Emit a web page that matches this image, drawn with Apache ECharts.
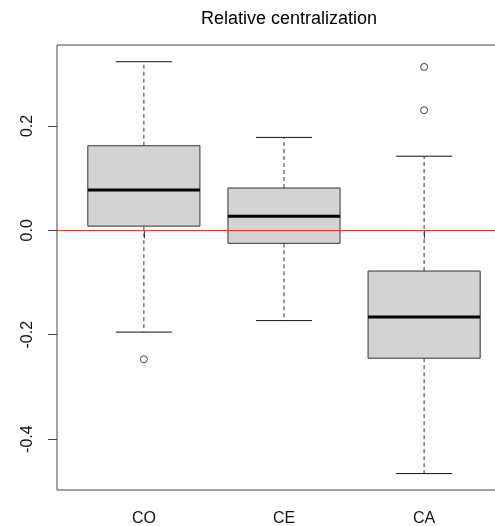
<!DOCTYPE html>
<html>
<head>
<meta charset="utf-8">
<script src="https://cdn.jsdelivr.net/npm/echarts@6/dist/echarts.min.js"></script>
<style>html,body{margin:0;padding:0;background:#fff}#c{width:495px;height:526px}</style>
</head>
<body>
<div id="c"></div>
<script>
var categories = ['CO', 'CE', 'CA'];
var lowerWhisker = [-0.195, -0.173, -0.466];
var q1 = [0.008, -0.025, -0.245];
var median = [0.077, 0.027, -0.166];
var q3 = [0.162, 0.081, -0.078];
var upperWhisker = [0.323, 0.178, 0.142];
var outlierCat = [0, 2, 2];
var outlierVal = [-0.247, 0.313, 0.230];
var yTicks = [-0.4, -0.2, 0.0, 0.2];
var title = 'Relative centralization';

var boxData = categories.map(function (c, i) {
  return [i + 1, lowerWhisker[i], q1[i], median[i], q3[i], upperWhisker[i]];
});
var outData = outlierCat.map(function (c, i) { return [c + 1, outlierVal[i]]; });

var FONT = '"Liberation Sans", Arial, sans-serif';
var chart = echarts.init(document.getElementById('c'), null, {renderer: 'canvas'});
chart.setOption({
  animation: false,
  backgroundColor: '#fff',
  title: {
    text: title, left: 284, top: 5, textAlign: 'center',
    textStyle: {fontFamily: FONT, fontSize: 18, fontWeight: 'normal', color: '#000'}
  },
  grid: {
    left: 57, top: 45, width: 454, height: 445,
    outerBoundsMode: 'none', containLabel: false,
    show: true, borderColor: '#444', borderWidth: 1, backgroundColor: 'transparent'
  },
  xAxis: {
    type: 'value', min: 0.38, max: 3.62,
    axisLine: {show: false},
    splitLine: {show: false},
    axisTick: {show: true, customValues: [1, 2, 3], length: 8, inside: false, lineStyle: {color: '#444'}},
    axisLabel: {
      customValues: [1, 2, 3], margin: 21,
      formatter: function (v) { return categories[Math.round(v) - 1]; },
      fontFamily: FONT, fontSize: 16, color: '#111'
    }
  },
  yAxis: {
    type: 'value', min: -0.4975, max: 0.355,
    axisLine: {show: false},
    splitLine: {show: false},
    axisTick: {show: true, customValues: yTicks, length: 9, lineStyle: {color: '#444'}},
    axisLabel: {
      customValues: yTicks, rotate: 90, margin: 21,
      formatter: function (v) { return v.toFixed(1); },
      fontFamily: FONT, fontSize: 16, color: '#111'
    }
  },
  series: [
    {
      type: 'custom',
      data: boxData,
      clip: false,
      renderItem: function (params, api) {
        var x = api.value(0);
        var bw = api.size([0.8, 0])[0];
        var cw = api.size([0.4, 0])[0];
        var pLW = api.coord([x, api.value(1)]);
        var pQ1 = api.coord([x, api.value(2)]);
        var pMed = api.coord([x, api.value(3)]);
        var pQ3 = api.coord([x, api.value(4)]);
        var pUW = api.coord([x, api.value(5)]);
        var cx = pMed[0];
        return {
          type: 'group',
          children: [
            {type: 'line', shape: {x1: cx, y1: pQ3[1], x2: cx, y2: pUW[1]},
              style: {stroke: '#333', lineWidth: 1, lineDash: [4, 3]}},
            {type: 'line', shape: {x1: cx, y1: pQ1[1], x2: cx, y2: pLW[1]},
              style: {stroke: '#333', lineWidth: 1, lineDash: [4, 3]}},
            {type: 'line', shape: {x1: cx - cw / 2, y1: pUW[1], x2: cx + cw / 2, y2: pUW[1]},
              style: {stroke: '#111', lineWidth: 1}},
            {type: 'line', shape: {x1: cx - cw / 2, y1: pLW[1], x2: cx + cw / 2, y2: pLW[1]},
              style: {stroke: '#111', lineWidth: 1}},
            {type: 'rect', shape: {x: cx - bw / 2, y: pQ3[1], width: bw, height: pQ1[1] - pQ3[1]},
              style: {fill: '#d3d3d3', stroke: '#333', lineWidth: 1}},
            {type: 'line', shape: {x1: cx - bw / 2, y1: pMed[1], x2: cx + bw / 2, y2: pMed[1]},
              style: {stroke: '#000', lineWidth: 3}}
          ]
        };
      },
      markLine: {
        silent: true, symbol: 'none', animation: false,
        label: {show: false},
        lineStyle: {color: '#ff3030', width: 1, type: 'solid'},
        data: [{yAxis: 0}]
      },
      z: 2
    },
    {
      type: 'scatter',
      data: outData,
      symbol: 'circle', symbolSize: 7,
      itemStyle: {color: '#fff', borderColor: '#111', borderWidth: 1},
      z: 3
    }
  ]
});
</script>
</body>
</html>
